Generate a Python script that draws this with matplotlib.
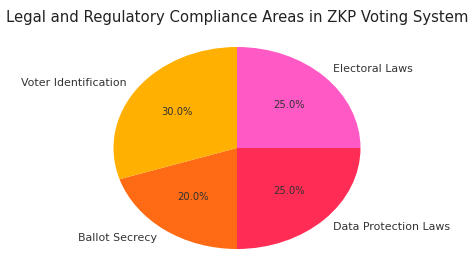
import matplotlib
matplotlib.use('Agg')
import matplotlib.pyplot as plt

# compliance areas, in drawing order (clockwise from 12 o'clock)
areas = ['Electoral Laws', 'Data Protection Laws', 'Ballot Secrecy', 'Voter Identification']
shares = [25, 25, 20, 30]
colors = ['#ff59c6', '#ff2d55', '#ff6a14', '#ffb000']

fig = plt.figure(figsize=(4.76, 2.59), dpi=100)

# pie is squashed vertically in the reference, so use a non-equal aspect
ax = fig.add_axes([88.8 / 476, -10.2 / 259, 296.4 / 476, 242.4 / 259])
wedges, texts, autotexts = ax.pie(shares, labels=areas, colors=colors,
                                  autopct='%1.1f%%', startangle=90,
                                  counterclock=False,
                                  textprops={'fontsize': 7.9, 'color': '#333333'})
for t in autotexts:
    t.set_fontsize(7.2)
ax.set_aspect('auto')
ax.set_xlim(-1.2, 1.2)
ax.set_ylim(-1.2, 1.2)

fig.suptitle('Legal and Regulatory Compliance Areas in ZKP Voting System',
             fontsize=10.7, color='#222222', x=0.498, y=0.962, va='top')

plt.savefig('out.png', dpi=100)
